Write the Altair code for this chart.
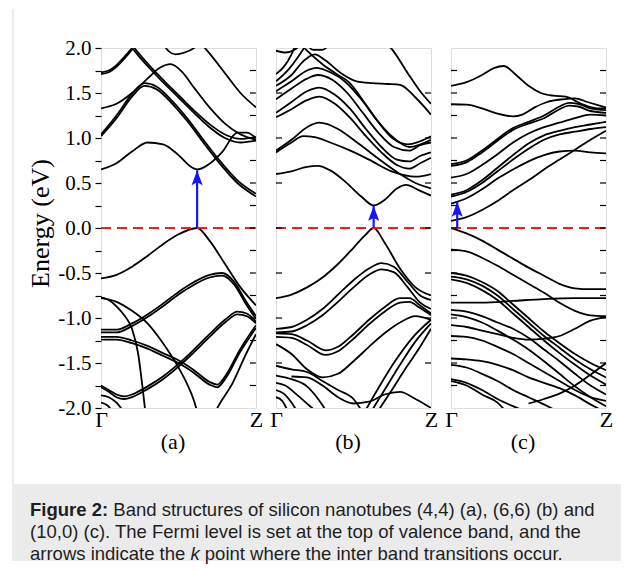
import altair as alt
import pandas as pd

# ---------------- data ----------------
# each band: list of (k, E) points; k = 0 at Gamma, 1 at Z
BANDS_A = {
    "c1": [(0, 0.65), (0.1, 0.72), (0.2, 0.85), (0.3, 0.95), (0.4, 0.93), (0.5, 0.81), (0.58, 0.68), (0.62, 0.65), (0.68, 0.69), (0.78, 0.84), (0.88, 1.06), (0.94, 1.06), (1.0, 1.00)],
    "c2a": [(0, 1.02), (0.1, 1.22), (0.2, 1.46), (0.28, 1.58), (0.36, 1.54), (0.46, 1.38), (0.56, 1.18), (0.66, 0.95), (0.76, 0.73), (0.88, 0.50), (1.0, 0.35)],
    "c2b": [(0, 1.04), (0.1, 1.25), (0.2, 1.49), (0.28, 1.61), (0.36, 1.57), (0.46, 1.41), (0.56, 1.21), (0.66, 0.98), (0.76, 0.76), (0.88, 0.53), (1.0, 0.38)],
    "c3": [(0, 1.33), (0.1, 1.38), (0.2, 1.50), (0.3, 1.66), (0.38, 1.78), (0.45, 1.82), (0.52, 1.74), (0.6, 1.56), (0.7, 1.34), (0.8, 1.16), (0.9, 1.04), (1.0, 0.98)],
    "c4a": [(0, 1.71), (0.05, 1.73), (0.1, 1.79), (0.15, 1.88), (0.2, 1.98), (0.25, 2.10)],
    "c4b": [(0, 1.73), (0.05, 1.75), (0.1, 1.81), (0.15, 1.90), (0.2, 2.00), (0.25, 2.12)],
    "c5a": [(0.16, 2.10), (0.22, 1.96), (0.3, 1.80), (0.4, 1.62), (0.5, 1.45), (0.6, 1.28), (0.7, 1.12), (0.8, 1.00), (0.9, 0.95), (1.0, 0.97)],
    "c5b": [(0.17, 2.10), (0.23, 1.97), (0.31, 1.81), (0.41, 1.63), (0.51, 1.46), (0.61, 1.29), (0.71, 1.14), (0.81, 1.03), (0.9, 0.99), (1.0, 1.01)],
    "c6": [(0.38, 2.10), (0.44, 1.96), (0.48, 1.93), (0.54, 1.95), (0.6, 2.00), (0.66, 2.10)],
    "c7": [(0.62, 2.10), (0.7, 1.94), (0.8, 1.72), (0.9, 1.50), (1.0, 1.34)],
    "v1": [(0, -0.56), (0.1, -0.52), (0.2, -0.43), (0.3, -0.31), (0.4, -0.18), (0.5, -0.07), (0.62, 0.0), (0.7, -0.14), (0.8, -0.40), (0.9, -0.66), (1.0, -0.86)],
    "v2": [(0, -0.77), (0.05, -0.80), (0.1, -0.87), (0.15, -0.97), (0.2, -1.12), (0.24, -1.40), (0.27, -1.80), (0.29, -2.10)],
    "v3": [(0, -0.78), (0.1, -0.82), (0.2, -0.92), (0.3, -1.06), (0.4, -1.28), (0.5, -1.55), (0.56, -1.75), (0.6, -1.92), (0.63, -2.10)],
    "v4a": [(0, -1.13), (0.1, -1.13), (0.2, -1.06), (0.3, -0.96), (0.4, -0.84), (0.5, -0.71), (0.6, -0.60), (0.7, -0.52), (0.78, -0.50), (0.86, -0.60), (0.93, -0.80), (1.0, -0.98)],
    "v4b": [(0, -1.16), (0.1, -1.16), (0.2, -1.09), (0.3, -0.99), (0.4, -0.87), (0.5, -0.74), (0.6, -0.63), (0.7, -0.55), (0.78, -0.53), (0.86, -0.63), (0.93, -0.83), (1.0, -1.01)],
    "v5a": [(0, -1.21), (0.1, -1.21), (0.2, -1.25), (0.3, -1.31), (0.4, -1.39), (0.5, -1.47), (0.6, -1.58), (0.7, -1.71), (0.75, -1.74), (0.8, -1.65), (0.9, -1.34), (1.0, -1.08)],
    "v5b": [(0, -1.24), (0.1, -1.24), (0.2, -1.28), (0.3, -1.34), (0.4, -1.42), (0.5, -1.50), (0.6, -1.61), (0.7, -1.74), (0.75, -1.77), (0.8, -1.68), (0.9, -1.37), (1.0, -1.11)],
    "v6a": [(0, -1.75), (0.05, -1.80), (0.1, -1.85), (0.15, -1.87), (0.2, -1.85), (0.3, -1.76), (0.4, -1.65), (0.5, -1.51), (0.6, -1.35), (0.7, -1.18), (0.8, -1.02), (0.88, -0.93), (0.94, -0.95), (1.0, -1.04)],
    "v6b": [(0, -1.77), (0.05, -1.82), (0.1, -1.88), (0.15, -1.90), (0.2, -1.88), (0.3, -1.79), (0.4, -1.68), (0.5, -1.54), (0.6, -1.38), (0.7, -1.21), (0.8, -1.05), (0.88, -0.96), (0.94, -0.98), (1.0, -1.06)],
    "v7": [(0, -1.86), (0.05, -1.88), (0.1, -1.94), (0.15, -2.05)],
    "v8": [(0, -1.94), (0.04, -1.97), (0.08, -2.05)],
    "v9": [(0.72, -2.10), (0.76, -1.97), (0.85, -1.72), (0.93, -1.42), (1.0, -1.18)],
}

BANDS_B = {
    "c1": [(0, 0.60), (0.1, 0.63), (0.2, 0.68), (0.27, 0.69), (0.35, 0.64), (0.45, 0.51), (0.55, 0.35), (0.63, 0.25), (0.7, 0.31), (0.78, 0.44), (0.84, 0.48), (0.92, 0.42), (1.0, 0.36)],
    "c2a": [(0, 0.84), (0.1, 0.95), (0.175, 1.02), (0.25, 1.01), (0.35, 0.95), (0.48, 0.86), (0.6, 0.76), (0.76, 0.62), (0.9, 0.57), (1.0, 0.60)],
    "c2b": [(0, 0.86), (0.1, 0.98), (0.2, 1.12), (0.28, 1.17), (0.4, 1.10), (0.5, 0.98), (0.6, 0.85), (0.7, 0.72), (0.8, 0.60), (0.9, 0.50), (1.0, 0.44)],
    "c3": [(0, 1.23), (0.1, 1.32), (0.2, 1.42), (0.28, 1.46), (0.38, 1.38), (0.48, 1.22), (0.58, 1.02), (0.68, 0.84), (0.78, 0.70), (0.86, 0.66), (0.93, 0.72), (1.0, 0.78)],
    "c4": [(0, 1.28), (0.1, 1.40), (0.2, 1.52), (0.28, 1.56), (0.38, 1.48), (0.48, 1.32), (0.58, 1.10), (0.68, 0.90), (0.78, 0.76), (0.86, 0.74), (0.93, 0.80), (1.0, 0.84)],
    "c5": [(0, 1.43), (0.1, 1.55), (0.2, 1.66), (0.27, 1.70), (0.36, 1.65), (0.46, 1.50), (0.56, 1.28), (0.66, 1.06), (0.76, 0.90), (0.86, 0.86), (0.93, 0.92), (1.0, 0.95)],
    "c6": [(0, 1.52), (0.1, 1.63), (0.2, 1.75), (0.26, 1.78), (0.35, 1.73), (0.45, 1.62), (0.55, 1.43), (0.65, 1.20), (0.75, 1.00), (0.85, 0.93), (1.0, 1.02)],
    "c7": [(0, 1.58), (0.1, 1.70), (0.18, 1.86), (0.25, 1.93), (0.32, 1.86), (0.42, 1.72), (0.52, 1.63), (0.62, 1.61), (0.72, 1.60), (0.8, 1.59), (0.9, 1.45), (1.0, 1.26)],
    "c8": [(0, 1.63), (0.08, 1.76), (0.15, 1.92), (0.2, 2.05)],
    "c9": [(0, 1.71), (0.05, 1.79), (0.1, 1.93), (0.13, 2.05)],
    "c10": [(0.14, 2.08), (0.2, 1.97), (0.3, 1.82), (0.4, 1.70), (0.47, 1.62), (0.56, 1.42), (0.66, 1.18), (0.76, 1.00), (0.86, 0.90), (1.0, 0.98)],
    "c11": [(0.7, 2.08), (0.76, 1.96), (0.85, 1.72), (0.93, 1.52), (1.0, 1.38)],
    "c12": [(0, 1.97), (0.06, 1.95), (0.12, 1.98), (0.18, 2.08)],
    "c13": [(0.18, 2.08), (0.24, 1.98), (0.30, 1.98), (0.36, 2.08)],
    "v1": [(0, -0.78), (0.1, -0.74), (0.2, -0.66), (0.3, -0.55), (0.4, -0.40), (0.5, -0.22), (0.58, -0.07), (0.63, 0.0), (0.7, -0.16), (0.8, -0.45), (0.9, -0.66), (1.0, -0.75)],
    "v2a": [(0, -1.12), (0.1, -1.10), (0.2, -1.02), (0.3, -0.90), (0.4, -0.74), (0.5, -0.58), (0.6, -0.45), (0.68, -0.39), (0.76, -0.43), (0.85, -0.60), (0.93, -0.75), (1.0, -0.80)],
    "v2b": [(0, -1.16), (0.1, -1.15), (0.2, -1.08), (0.3, -0.97), (0.4, -0.82), (0.5, -0.66), (0.6, -0.52), (0.68, -0.46), (0.76, -0.49), (0.85, -0.66), (0.93, -0.83), (1.0, -0.90)],
    "v3a": [(0, -1.17), (0.1, -1.18), (0.2, -1.25), (0.32, -1.36), (0.4, -1.32), (0.5, -1.18), (0.6, -1.02), (0.7, -0.88), (0.8, -0.78), (0.86, -0.78), (0.93, -0.86), (1.0, -0.95)],
    "v3b": [(0, -1.21), (0.1, -1.22), (0.2, -1.30), (0.32, -1.41), (0.4, -1.37), (0.5, -1.23), (0.6, -1.07), (0.7, -0.93), (0.8, -0.83), (0.86, -0.82), (0.93, -0.89), (1.0, -0.97)],
    "v4": [(0, -1.29), (0.1, -1.40), (0.2, -1.57), (0.3, -1.66), (0.4, -1.62), (0.5, -1.48), (0.6, -1.32), (0.7, -1.17), (0.8, -1.05), (0.9, -0.98), (1.0, -1.02)],
    "v5": [(0.56, -2.08), (0.66, -1.78), (0.76, -1.50), (0.88, -1.22), (1.0, -1.02)],
    "v6": [(0.6, -2.08), (0.7, -1.80), (0.8, -1.52), (0.9, -1.26), (1.0, -1.06)],
    "v7": [(0.64, -2.08), (0.74, -1.82), (0.84, -1.55), (0.93, -1.32), (1.0, -1.12)],
    "v8": [(0, -1.53), (0.1, -1.57), (0.2, -1.60), (0.3, -1.70), (0.4, -1.80), (0.5, -1.90), (0.56, -2.05)],
    "v9": [(0, -1.64), (0.1, -1.68), (0.2, -1.76), (0.28, -1.92), (0.33, -2.05)],
    "v10": [(0, -1.72), (0.06, -1.75), (0.14, -1.86), (0.22, -1.98), (0.27, -2.05)],
    "v11": [(0, -1.80), (0.05, -1.84), (0.1, -1.94), (0.14, -2.05)],
    "v12": [(0, -1.88), (0.04, -1.92), (0.08, -2.05)],
    "v13": [(0.1, -1.65), (0.2, -1.66), (0.3, -1.75), (0.4, -1.88), (0.5, -1.95), (0.6, -1.93), (0.7, -1.85), (0.8, -1.82), (0.9, -1.90), (1.0, -2.00)],
}

BANDS_C = {
    "c1": [(0, 0.08), (0.1, 0.12), (0.2, 0.20), (0.3, 0.30), (0.4, 0.42), (0.5, 0.53), (0.6, 0.65), (0.7, 0.76), (0.8, 0.87), (0.9, 0.98), (1.0, 1.08)],
    "c2": [(0, 0.27), (0.1, 0.33), (0.2, 0.43), (0.3, 0.55), (0.4, 0.65), (0.5, 0.74), (0.6, 0.81), (0.7, 0.85), (0.8, 0.86), (0.9, 0.84), (1.0, 0.83)],
    "c3a": [(0, 0.35), (0.1, 0.40), (0.2, 0.50), (0.3, 0.63), (0.4, 0.76), (0.5, 0.88), (0.6, 0.98), (0.7, 1.04), (0.8, 1.07), (0.9, 1.10), (1.0, 1.12)],
    "c3b": [(0, 0.37), (0.1, 0.42), (0.2, 0.53), (0.3, 0.67), (0.4, 0.81), (0.5, 0.94), (0.6, 1.03), (0.7, 1.08), (0.8, 1.12), (0.9, 1.15), (1.0, 1.18)],
    "c4": [(0, 0.56), (0.1, 0.60), (0.2, 0.70), (0.3, 0.82), (0.4, 0.95), (0.5, 1.05), (0.6, 1.12), (0.7, 1.17), (0.8, 1.22), (0.9, 1.26), (1.0, 1.25)],
    "c5a": [(0, 0.69), (0.1, 0.73), (0.2, 0.84), (0.3, 0.97), (0.4, 1.09), (0.5, 1.16), (0.6, 1.22), (0.7, 1.32), (0.76, 1.36), (0.82, 1.35), (0.9, 1.30), (1.0, 1.28)],
    "c5b": [(0, 0.71), (0.1, 0.75), (0.2, 0.86), (0.3, 0.99), (0.4, 1.11), (0.5, 1.18), (0.6, 1.25), (0.7, 1.35), (0.76, 1.39), (0.82, 1.38), (0.9, 1.33), (1.0, 1.31)],
    "c6": [(0, 1.375), (0.1, 1.37), (0.2, 1.33), (0.3, 1.27), (0.4, 1.24), (0.46, 1.26), (0.54, 1.34), (0.62, 1.40), (0.72, 1.43), (0.8, 1.44), (0.88, 1.40), (1.0, 1.34)],
    "c7": [(0, 1.58), (0.1, 1.62), (0.2, 1.70), (0.28, 1.78), (0.34, 1.80), (0.42, 1.70), (0.5, 1.58), (0.58, 1.50), (0.66, 1.47), (0.74, 1.46), (0.84, 1.38), (0.94, 1.33), (1.0, 1.33)],
    "v1": [(0, 0.0), (0.1, -0.06), (0.2, -0.14), (0.3, -0.24), (0.4, -0.34), (0.5, -0.44), (0.6, -0.53), (0.7, -0.62), (0.8, -0.67), (0.9, -0.68), (1.0, -0.68)],
    "v2": [(0, -0.24), (0.1, -0.26), (0.2, -0.33), (0.3, -0.42), (0.4, -0.52), (0.5, -0.62), (0.6, -0.72), (0.7, -0.83), (0.8, -0.92), (0.9, -0.97), (1.0, -0.98)],
    "v3": [(0, -0.83), (0.2, -0.83), (0.4, -0.81), (0.6, -0.79), (0.8, -0.78), (1.0, -0.78)],
    "v4a": [(0, -0.50), (0.1, -0.53), (0.2, -0.60), (0.3, -0.70), (0.4, -0.85), (0.5, -1.00), (0.6, -1.15), (0.7, -1.28), (0.8, -1.40), (0.9, -1.50), (1.0, -1.58)],
    "v4b": [(0, -0.54), (0.1, -0.57), (0.2, -0.64), (0.3, -0.75), (0.4, -0.90), (0.5, -1.05), (0.6, -1.20), (0.7, -1.33), (0.8, -1.46), (0.9, -1.57), (1.0, -1.66)],
    "v4c": [(0, -0.57), (0.1, -0.61), (0.2, -0.69), (0.3, -0.80), (0.4, -0.95), (0.5, -1.10), (0.6, -1.25), (0.7, -1.39), (0.8, -1.52), (0.9, -1.64), (1.0, -1.74)],
    "v5a": [(0, -0.91), (0.1, -0.93), (0.2, -0.98), (0.3, -1.05), (0.4, -1.12), (0.5, -1.22), (0.6, -1.35), (0.7, -1.48), (0.8, -1.62), (0.9, -1.75), (1.0, -1.85)],
    "v5b": [(0, -0.96), (0.1, -0.99), (0.2, -1.05), (0.3, -1.14), (0.4, -1.24), (0.5, -1.35), (0.6, -1.48), (0.7, -1.62), (0.8, -1.76), (0.9, -1.88), (1.0, -1.98)],
    "v6": [(0, -1.08), (0.1, -1.10), (0.2, -1.14), (0.3, -1.18), (0.4, -1.22), (0.5, -1.24), (0.6, -1.23), (0.7, -1.20), (0.8, -1.12), (0.9, -1.03), (1.0, -0.99)],
    "v7": [(0, -1.20), (0.1, -1.21), (0.2, -1.25), (0.3, -1.32), (0.4, -1.40), (0.5, -1.50), (0.6, -1.60), (0.7, -1.70), (0.8, -1.80), (0.9, -1.88), (1.0, -1.92)],
    "v8": [(0, -1.45), (0.1, -1.46), (0.2, -1.48), (0.3, -1.52), (0.4, -1.58), (0.5, -1.66), (0.6, -1.72), (0.7, -1.78), (0.8, -1.86), (0.9, -1.96), (1.0, -2.05)],
    "v9": [(0, -1.52), (0.1, -1.55), (0.2, -1.62), (0.3, -1.70), (0.4, -1.80), (0.5, -1.88), (0.6, -1.96), (0.7, -2.05)],
    "v10": [(0, -1.68), (0.1, -1.72), (0.2, -1.80), (0.3, -1.90), (0.4, -1.98), (0.5, -2.05)],
    "v11": [(0, -1.70), (0.1, -1.75), (0.2, -1.85), (0.3, -1.94), (0.36, -2.05)],
    "v12": [(0.5, -1.95), (0.6, -1.90), (0.7, -1.84), (0.8, -1.75), (0.9, -1.63), (1.0, -1.50)],
}

# arrows: (k, from E, to E)
ARROW_A = (0.62, 0.0, 0.64)
ARROW_B = (0.63, 0.0, 0.245)
ARROW_C = (0.04, 0.0, 0.29)

FERMI_K = [0, 1]
FERMI_E = 0.0
K_LABEL_POS = [0, 1]
Y_TICKS = [-2.0, -1.75, -1.5, -1.25, -1.0, -0.75, -0.5, -0.25, 0.0, 0.25, 0.5, 0.75, 1.0, 1.25, 1.5, 1.75, 2.0]
Y_INNER_QUARTER = [-1.75, -1.5, -1.25, -1.0, -0.75, -0.5, -0.25, 0.0, 0.25, 0.5, 0.75, 1.0, 1.25, 1.5, 1.75]
Y_INNER_HALF = [-1.5, -1.0, -0.5, 0.0, 0.5, 1.0, 1.5]
PANEL_LABELS = ["(a)", "(b)", "(c)"]
Y_TITLE = "Energy (eV)"

CAP_BOLD = "Figure 2:"
CAP_L1 = "Band structures of silicon nanotubes (4,4) (a), (6,6) (b) and"
CAP_L2 = "(10,0) (c). The Fermi level is set at the top of valence band, and the"
CAP_L3A = "arrows indicate the"
CAP_L3K = "k"
CAP_L3B = "point where the inter band transitions occur."

# ---------------- styling ----------------
SERIF = "Liberation Serif"
SANS = "Liberation Sans"
RED = "#f21d1d"
BLUE = "#1414ff"
W, H = 155, 360
ARROW_PATH = "M0,-1L0.6,0.6L0,0.3L-0.6,0.6Z"
CAP_SIZE = 18.5


def bands_df(bands):
    rows = []
    for name, pts in bands.items():
        for k, e in pts:
            rows.append({"band": name, "k": k, "E": e})
    return pd.DataFrame(rows)


xscale = alt.Scale(domain=[0, 1], nice=False, zero=False)
yscale = alt.Scale(domain=[-2, 2], nice=False, zero=False)


def x_enc(label):
    return alt.X(
        "k:Q", scale=xscale,
        axis=alt.Axis(values=K_LABEL_POS,
                      labelExpr="datum.value == 0 ? 'Γ' : 'Z'",
                      ticks=False, domain=False, grid=False,
                      labelFont=SERIF, labelFontSize=22, labelColor="black",
                      labelPadding=1, labelFlush=False, labelOverlap=False,
                      title=label, titleFont=SERIF, titleFontSize=22,
                      titleFontWeight="normal", titleColor="black", titlePadding=1,
                      titleX=W / 2 - 6))


def y_enc(show):
    if not show:
        return alt.Y("E:Q", scale=yscale, axis=None)
    return alt.Y(
        "E:Q", scale=yscale,
        axis=alt.Axis(values=Y_TICKS,
                      labelExpr="abs(datum.value*2 - round(datum.value*2)) > 0.01 ? '' : (datum.value < 0 ? '-' : '') + format(abs(datum.value), '.1f')",
                      tickSize=6, tickColor="black", tickWidth=1.2,
                      domain=False, grid=False,
                      labelFont=SERIF, labelFontSize=21, labelColor="black",
                      labelPadding=4, labelFlush=False, labelOverlap=False,
                      title=Y_TITLE, titleFont=SERIF, titleFontSize=26,
                      titleFontWeight="normal", titleColor="black", titlePadding=4,
                      titleY=H / 2 - 5))


def make_panel(bands, label, arrow, show_axis, ticks_left, ticks_right, extra=None):
    x = x_enc(label)
    y = y_enc(show_axis)
    layers = []
    if extra:
        layers.extend(extra)
    layers.append(alt.Chart(bands_df(bands)).mark_line(
        clip=True, color="black", strokeWidth=1.8, interpolate="monotone"
    ).encode(x=x, y=y, detail="band:N"))
    layers.append(alt.Chart(pd.DataFrame({"k": FERMI_K, "E": [FERMI_E] * len(FERMI_K)})).mark_line(
        color=RED, strokeWidth=2, strokeDash=[10, 6]
    ).encode(x=x, y=y))
    layers.append(alt.Chart(pd.DataFrame({"k": [arrow[0]], "E": [arrow[1]], "E2": [arrow[2]]})).mark_rule(
        color=BLUE, strokeWidth=2.2
    ).encode(x=x, y=y, y2="E2:Q"))
    layers.append(alt.Chart(pd.DataFrame({"k": [arrow[0]], "E": [arrow[2]]})).mark_point(
        shape=ARROW_PATH, filled=True, size=340, color=BLUE, opacity=1, yOffset=9.2
    ).encode(x=x, y=y))
    if ticks_left:
        layers.append(alt.Chart(pd.DataFrame({"E": ticks_left})).mark_rule(
            color="black", strokeWidth=1.2
        ).encode(y=y, x=alt.value(0), x2=alt.value(6)))
    if ticks_right:
        layers.append(alt.Chart(pd.DataFrame({"E": ticks_right})).mark_rule(
            color="black", strokeWidth=1.2
        ).encode(y=y, x=alt.value(W - 6), x2=alt.value(W)))
    return alt.layer(*layers).properties(width=W, height=H)


def txt(s, xpx, ypx, weight="normal", style="normal"):
    return alt.Chart(pd.DataFrame({"t": [s]})).mark_text(
        align="left", baseline="middle", font=SANS, fontSize=CAP_SIZE,
        fontWeight=weight, fontStyle=style, color="#1e1e1e"
    ).encode(text="t:N", x=alt.value(xpx), y=alt.value(ypx))


one = pd.DataFrame({"a": [0]})
caption = [
    alt.Chart(one).mark_rule(color="#d8d8d8", strokeWidth=1).encode(
        x=alt.value(-88), y=alt.value(-39), y2=alt.value(513)),
    alt.Chart(one).mark_rect(color="#ebebeb").encode(
        x=alt.value(-87), x2=alt.value(520), y=alt.value(436), y2=alt.value(513)),
    txt(CAP_BOLD, -71, 462, weight="bold"),
    txt(CAP_L1, 12.3, 462),
    txt(CAP_L2, -71, 484),
    txt(CAP_L3A, -71, 506),
    txt(CAP_L3K, 89.4, 506, style="italic"),
    txt(CAP_L3B, 103.8, 506),
]

pa = make_panel(BANDS_A, PANEL_LABELS[0], ARROW_A, True, None, Y_INNER_QUARTER, extra=caption)
pb = make_panel(BANDS_B, PANEL_LABELS[1], ARROW_B, False, Y_INNER_HALF, Y_INNER_HALF)
pc = make_panel(BANDS_C, PANEL_LABELS[2], ARROW_C, False, Y_INNER_QUARTER, Y_INNER_QUARTER)

chart = alt.hconcat(pa, pb, pc, spacing=20, bounds="flush").properties(
    padding={"left": 4, "top": 0, "right": 0, "bottom": 0}
).configure_view(stroke="black", strokeWidth=1.5).configure(background="white")

chart.save("out.html", embed_options={"renderer": "svg", "actions": False})
